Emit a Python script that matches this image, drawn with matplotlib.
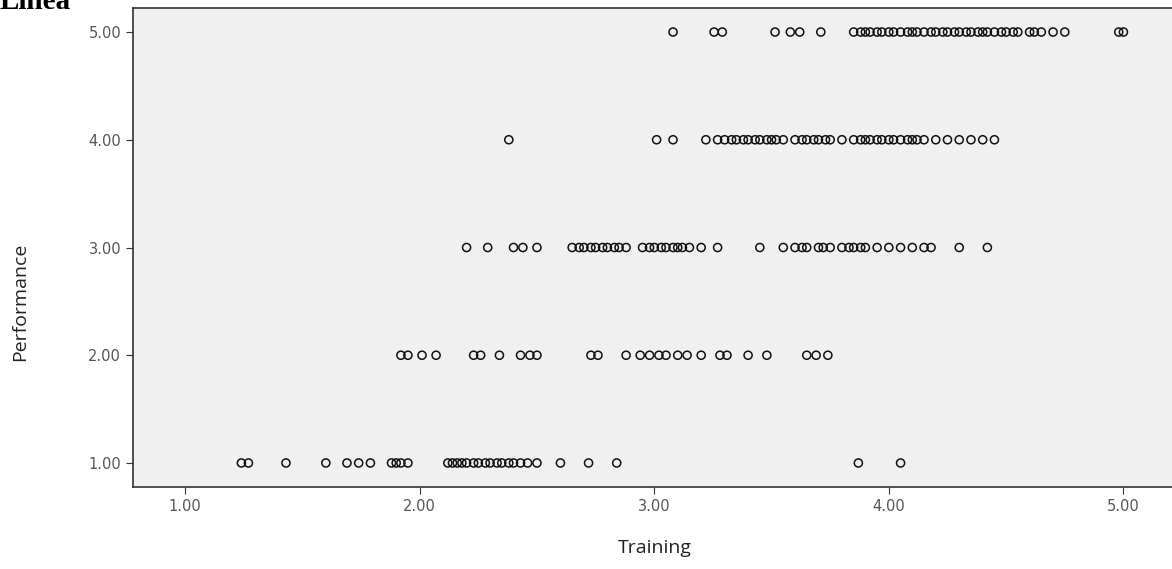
import matplotlib
matplotlib.use('Agg')
import matplotlib.pyplot as plt

# Training scores per performance level
perf5 = [3.08, 3.255, 3.29, 3.515, 3.58, 3.62, 3.71,
         3.85, 3.88, 3.90, 3.92, 3.95, 3.97, 4.00, 4.02, 4.05, 4.08, 4.10,
         4.12, 4.15, 4.18, 4.20, 4.23, 4.25, 4.28, 4.30, 4.33, 4.35, 4.38,
         4.40, 4.42, 4.45, 4.48, 4.50, 4.53, 4.55, 4.60, 4.62, 4.65, 4.70,
         4.75, 4.98, 5.00]
perf4 = [2.38, 3.01, 3.08, 3.22, 3.27, 3.30, 3.33, 3.35, 3.38, 3.40, 3.43,
         3.45, 3.48, 3.50, 3.52, 3.55, 3.60, 3.63, 3.65, 3.68, 3.70, 3.73,
         3.75, 3.80, 3.85, 3.88, 3.90, 3.92, 3.95, 3.97, 4.00, 4.02, 4.05,
         4.08, 4.10, 4.12, 4.15, 4.20, 4.25, 4.30, 4.35, 4.40, 4.45]
perf3 = [2.20, 2.29, 2.40, 2.44, 2.50, 2.65, 2.68, 2.70, 2.73, 2.75, 2.78,
         2.80, 2.83, 2.85, 2.88, 2.95, 2.98, 3.00, 3.03, 3.05, 3.08, 3.10,
         3.12, 3.15, 3.20, 3.27, 3.45, 3.55, 3.60, 3.63, 3.65, 3.70, 3.72,
         3.75, 3.80, 3.83, 3.85, 3.88, 3.90, 3.95, 4.00, 4.05, 4.10, 4.15,
         4.18, 4.30, 4.42]
perf2 = [1.92, 1.95, 2.01, 2.07, 2.23, 2.26, 2.34, 2.43, 2.47, 2.50, 2.73,
         2.76, 2.88, 2.94, 2.98, 3.02, 3.05, 3.10, 3.14, 3.20, 3.28, 3.31,
         3.40, 3.48, 3.65, 3.69, 3.74]
perf1 = [1.24, 1.27, 1.43, 1.60, 1.69, 1.74, 1.79, 1.88, 1.90, 1.92, 1.95,
         2.12, 2.14, 2.16, 2.18, 2.20, 2.23, 2.25, 2.28, 2.30, 2.33, 2.35,
         2.38, 2.40, 2.43, 2.46, 2.50, 2.60, 2.72, 2.84, 3.87, 4.05]

levels = [5, 4, 3, 2, 1]
groups = [perf5, perf4, perf3, perf2, perf1]
xticks = [1, 2, 3, 4, 5]
yticks = [1, 2, 3, 4, 5]

fig = plt.figure(figsize=(11.72, 5.69), dpi=100)
ax = fig.add_axes([133 / 1172, 1 - 487 / 569, 1 - 133 / 1172, (487 - 8) / 569])
ax.set_facecolor('#f0f0f0')

for lvl, xs in zip(levels, groups):
    ax.scatter(xs, [lvl] * len(xs), s=34, facecolors='none',
               edgecolors='#111111', linewidths=1.1)

ax.set_xlim(0.778, 5.207)
ax.set_ylim(0.777, 5.223)
ax.set_xticks(xticks)
ax.set_xticklabels([f'{v:.2f}' for v in xticks])
ax.set_yticks(yticks)
ax.set_yticklabels([f'{v:.2f}' for v in yticks])
ax.tick_params(labelsize=10.5, labelcolor='#555555', length=5, color='#333333')
for side in ('left', 'top', 'bottom'):
    ax.spines[side].set_color('#333333')
    ax.spines[side].set_linewidth(1.2)
ax.spines['right'].set_visible(False)

fig.text(655 / 1172, 1 - 548 / 569, 'Training', ha='center', va='center',
         fontsize=14, family='Open Sans', color='#222222')
fig.text(20 / 1172, 1 - 302 / 569, 'Performance', ha='center', va='center',
         rotation=90, fontsize=14, family='Open Sans', color='#222222')
fig.text(0.0, 1 - 9 / 569, 'Linea', ha='left', va='baseline', fontsize=21,
         fontweight='bold', family='Liberation Serif')

fig.savefig('out.png', dpi=100)
